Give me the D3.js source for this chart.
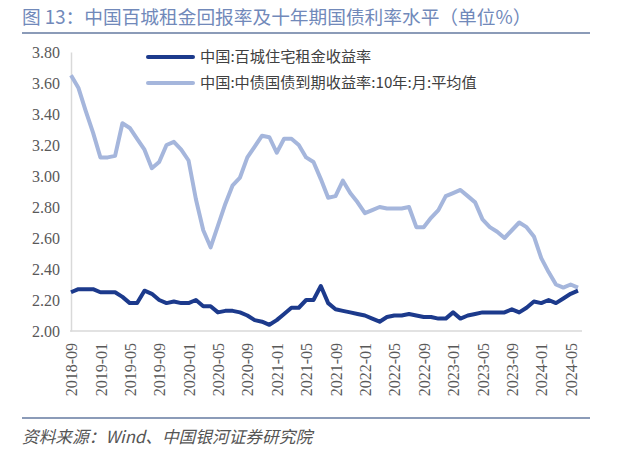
<!DOCTYPE html>
<html>
<head>
<meta charset="utf-8">
<script src="https://cdn.jsdelivr.net/npm/d3@7"></script>
<style>
  html, body { margin: 0; padding: 0; background: #fff; }
  svg { display: block; }
</style>
</head>
<body>
<svg id="chart" width="640" height="455"></svg>
<script>
// ---- data ----
const startYear = 2018, startMonth = 9, nMonths = 70;
const months = [];
for (let i = 0; i < nMonths; i++) {
  const m = startMonth - 1 + i;
  const y = startYear + Math.floor(m / 12);
  const mm = (m % 12) + 1;
  months.push(y + "-" + (mm < 10 ? "0" + mm : mm));
}
const rentYield = [
  2.25, 2.27, 2.27, 2.27, 2.25, 2.25, 2.25, 2.22, 2.18, 2.18,
  2.26, 2.24, 2.20, 2.18, 2.19, 2.18, 2.18, 2.20, 2.16, 2.16,
  2.12, 2.13, 2.13, 2.12, 2.10, 2.07, 2.06, 2.04, 2.07, 2.11,
  2.15, 2.15, 2.20, 2.20, 2.29, 2.18, 2.14, 2.13, 2.12, 2.11,
  2.10, 2.08, 2.06, 2.09, 2.10, 2.10, 2.11, 2.10, 2.09, 2.09,
  2.08, 2.08, 2.12, 2.08, 2.10, 2.11, 2.12, 2.12, 2.12, 2.12,
  2.14, 2.12, 2.15, 2.19, 2.18, 2.20, 2.18, 2.21, 2.24, 2.26
];
const bondYield = [
  3.65, 3.57, 3.42, 3.28, 3.12, 3.12, 3.13, 3.34, 3.31, 3.24,
  3.17, 3.05, 3.09, 3.20, 3.22, 3.17, 3.10, 2.85, 2.65, 2.54,
  2.68, 2.82, 2.94, 2.99, 3.12, 3.19, 3.26, 3.25, 3.15, 3.24,
  3.24, 3.20, 3.12, 3.09, 2.98, 2.86, 2.87, 2.97, 2.89, 2.83,
  2.76, 2.78, 2.80, 2.79, 2.79, 2.79, 2.80, 2.67, 2.67, 2.73,
  2.78, 2.87, 2.89, 2.91, 2.87, 2.83, 2.72, 2.67, 2.64, 2.60,
  2.65, 2.70, 2.67, 2.61, 2.47, 2.38, 2.30, 2.28, 2.30, 2.28
];
const seriesNames = ["中国:百城住宅租金收益率", "中国:中债国债到期收益率:10年:月:平均值"];
const seriesColors = ["#1c3a8c", "#a5b6dc"];
const yTicks = [2.0, 2.2, 2.4, 2.6, 2.8, 3.0, 3.2, 3.4, 3.6, 3.8];
const xTickLabels = months.filter((d, i) => i % 4 === 0);
const titleText = "图 13：中国百城租金回报率及十年期国债利率水平（单位%）";
const sourceText = "资料来源：Wind、中国银河证券研究院";

// ---- drawing ----
const svg = d3.select("#chart");
const serif = "'Liberation Serif','Times New Roman',serif";
const sans = "'Noto Sans CJK SC','Noto Sans',sans-serif";

const x = d3.scalePoint().domain(months).range([71, 578]);
const y = d3.scaleLinear().domain([2.0, 3.8]).range([331, 52]);

// title
svg.append("text").attr("x", 22).attr("y", 24)
  .attr("font-family", sans).attr("font-size", 18.7).attr("fill", "#7189ba")
  .text(titleText);
svg.append("line").attr("x1", 22).attr("x2", 590).attr("y1", 33).attr("y2", 33)
  .attr("stroke", "#8b9bb8").attr("stroke-width", 2);

// y axis
const yAxis = d3.axisLeft(y).tickValues(yTicks).tickFormat(d3.format(".2f")).tickSize(0).tickPadding(11);
const gy = svg.append("g").attr("transform", "translate(71,0)").call(yAxis);
gy.select(".domain").attr("stroke", "#d9d9d9").attr("stroke-width", 1.5);
gy.selectAll("text").attr("font-family", serif).attr("font-size", 16).attr("fill", "#595959");

// x axis
const xAxis = d3.axisBottom(x).tickValues(xTickLabels).tickSize(0);
const gx = svg.append("g").attr("transform", "translate(0,331)").call(xAxis);
gx.select(".domain").remove();
gx.append("line").attr("x1", x.range()[0] - 1).attr("x2", x.range()[1] + 4)
  .attr("y1", 0).attr("y2", 0).attr("stroke", "#d9d9d9").attr("stroke-width", 1.5);
gx.selectAll("text")
  .attr("font-family", serif).attr("font-size", 16).attr("fill", "#595959")
  .attr("text-anchor", "end")
  .attr("transform", "rotate(-90)")
  .attr("x", -12).attr("y", 0).attr("dy", "0.35em");

// lines
const line = d3.line().x((d, i) => x(months[i])).y(d => y(d));
svg.append("path").datum(bondYield).attr("d", line)
  .attr("fill", "none").attr("stroke", seriesColors[1]).attr("stroke-width", 4)
  .attr("stroke-linejoin", "round");
svg.append("path").datum(rentYield).attr("d", line)
  .attr("fill", "none").attr("stroke", seriesColors[0]).attr("stroke-width", 4)
  .attr("stroke-linejoin", "round");

// legend
const lg = svg.append("g");
seriesNames.forEach((name, i) => {
  const ly = 57 + i * 26;
  lg.append("line").attr("x1", 148).attr("x2", 193).attr("y1", ly).attr("y2", ly)
    .attr("stroke", seriesColors[i]).attr("stroke-width", 4).attr("stroke-linecap", "round");
  lg.append("text").attr("x", 200).attr("y", ly).attr("dy", "0.36em")
    .attr("font-family", sans).attr("font-size", 15.2).attr("fill", "#404040")
    .text(name);
});

// source
svg.append("line").attr("x1", 22).attr("x2", 590).attr("y1", 418).attr("y2", 418)
  .attr("stroke", "#8b9bb8").attr("stroke-width", 2);
svg.append("text").attr("x", 22).attr("y", 443)
  .attr("font-family", sans).attr("font-size", 16.7).attr("font-style", "italic")
  .attr("fill", "#555").text(sourceText);
</script>
</body>
</html>
